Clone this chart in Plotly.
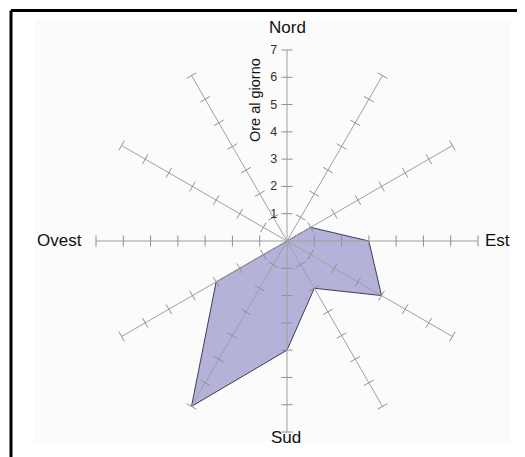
import plotly.graph_objects as go

# ---- data ----
directions = [0, 30, 60, 90, 120, 150, 180, 210, 240, 270, 300, 330]
hours = [0, 0, 1, 3, 4, 2, 4, 7, 3, 0, 0, 0]
radial_ticks = [1, 2, 3, 4, 5, 6, 7]
compass_labels = ["Nord", "Est", "Sud", "Ovest"]
r_max = 7
axis_title = "Ore al giorno"

W, H = 525, 457
OFF = 8  # page body margin
cx, cy, R = 287, 241, 191  # centre and radius in screen pixels


def px(x):
    return (x - OFF) / W


def py(y):
    return 1 - (y - OFF) / H


fig = go.Figure()

# filled polygon
fig.add_trace(go.Scatterpolar(
    r=hours + [hours[0]], theta=directions + [directions[0]],
    mode="lines", fill="toself",
    fillcolor="rgba(160,157,206,0.78)",
    line=dict(color="#3c3c5a", width=1),
    hoverinfo="skip", showlegend=False,
))

# spokes
sp_r, sp_t = [], []
for d in directions:
    sp_r += [0, r_max, None]
    sp_t += [d, d, None]
fig.add_trace(go.Scatterpolar(
    r=sp_r, theta=sp_t, mode="lines",
    line=dict(color="#a0a0a0", width=1),
    hoverinfo="skip", showlegend=False,
))

# tick marks on spokes
tk_r, tk_t, tk_a = [], [], []
for d in directions:
    for v in radial_ticks:
        tk_r.append(v)
        tk_t.append(d)
        tk_a.append(d)
fig.add_trace(go.Scatterpolar(
    r=tk_r, theta=tk_t, mode="markers",
    marker=dict(symbol="line-ew", size=8, angle=tk_a,
                line=dict(color="#909090", width=1)),
    hoverinfo="skip", showlegend=False,
))

dom_x = [px(cx - R), px(cx + R)]
dom_y = [py(cy + R), py(cy - R)]

fig.update_layout(
    width=W, height=H,
    margin=dict(l=0, r=0, t=0, b=0),
    paper_bgcolor="white",
    font=dict(family="Liberation Sans, Arial, sans-serif", color="#222"),
    polar=dict(
        domain=dict(x=dom_x, y=dom_y),
        bgcolor="rgba(0,0,0,0)",
        radialaxis=dict(
            range=[0, r_max], tickvals=radial_ticks, angle=90,
            side="counterclockwise", showline=False, showgrid=False,
            ticks="outside", ticklen=5, tickcolor="rgba(0,0,0,0)",
            tickangle=90,
            tickfont=dict(size=12.5, color="#333"),
        ),
        angularaxis=dict(
            direction="clockwise", rotation=90, visible=False,
            showgrid=False,
        ),
    ),
    showlegend=False,
)

# faint background panel and frame
fig.add_shape(type="rect", xref="paper", yref="paper",
              x0=px(35), x1=px(510), y0=py(442), y1=py(20),
              fillcolor="#fbfbfb", line=dict(width=0), layer="below")
fig.add_shape(type="line", xref="paper", yref="paper",
              x0=px(11), x1=px(540), y0=py(10.5), y1=py(10.5),
              line=dict(color="black", width=3))
fig.add_shape(type="line", xref="paper", yref="paper",
              x0=px(11), x1=px(11), y0=py(10.5), y1=py(480),
              line=dict(color="black", width=3))

# compass labels
label_pos = {"Nord": (287, 27), "Est": (497, 241), "Sud": (286, 437), "Ovest": (59, 241)}
for lab in compass_labels:
    x, y = label_pos[lab]
    fig.add_annotation(x=px(x), y=py(y), xref="paper", yref="paper",
                       text=lab, showarrow=False,
                       font=dict(size=17, color="#111"),
                       xanchor="center", yanchor="middle")

# radial axis title
fig.add_annotation(x=px(255), y=py(100), xref="paper", yref="paper",
                   text=axis_title, textangle=-90, showarrow=False,
                   font=dict(size=14.5, color="#111"),
                   xanchor="center", yanchor="middle")

fig.write_html("out.html")
